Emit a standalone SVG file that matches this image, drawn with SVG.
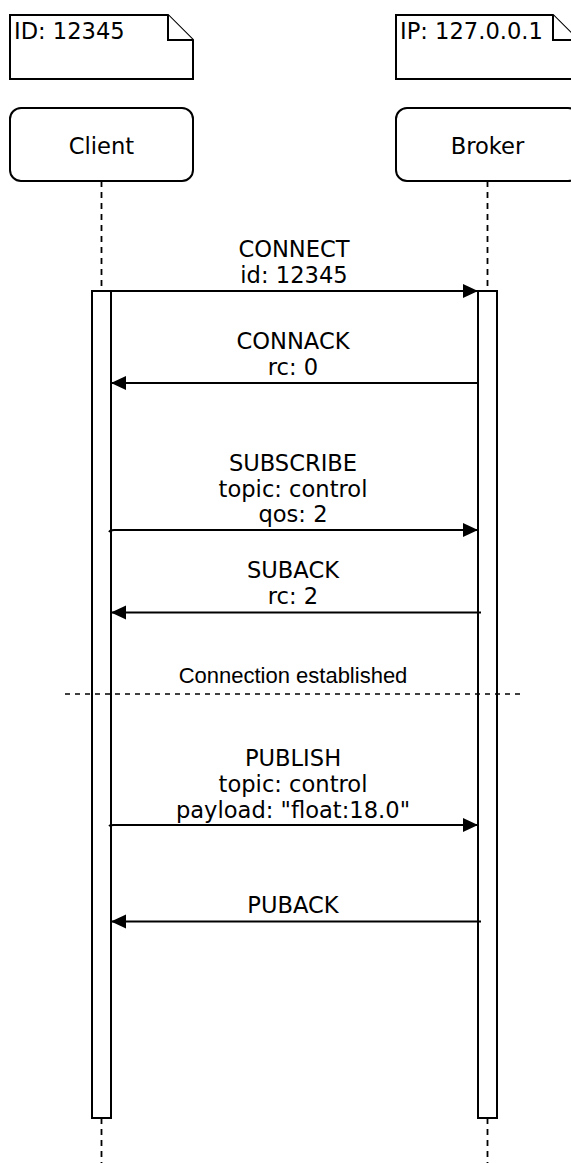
<svg xmlns="http://www.w3.org/2000/svg" width="571" height="1163" viewBox="0 0 571 1163">
<style>
.shape{fill:#fff;stroke:#000;stroke-width:2}
.life{fill:none;stroke:#000;stroke-width:1.8;stroke-dasharray:6 5}
.msg{fill:none;stroke:#000;stroke-width:1.8}
.t{font-family:"DejaVu Sans",Verdana,sans-serif;font-size:22.6px;fill:#000}
.c{text-anchor:middle}
.h{font-family:"Liberation Sans",Arial,Helvetica,sans-serif;font-size:22px;fill:#000;text-anchor:middle}
</style>
<defs>
<marker id="ah" markerUnits="userSpaceOnUse" markerWidth="16" markerHeight="16" viewBox="0 0 16 16" refX="15" refY="8" orient="auto">
<path d="M0,1 L15,8 L0,15 Z" fill="#000"/>
</marker>
</defs>
<g id="note-client">
<path class="shape" d="M10,15 H168 L193,40 V79 H10 Z"/>
<path class="shape" fill="none" d="M168,15 V40 H193"/>
<text class="t" x="14" y="39">ID: 12345</text>
</g>
<g id="note-broker">
<path class="shape" d="M396,15 H553 L578,40 V79 H396 Z"/>
<path class="shape" fill="none" d="M553,15 V40 H578"/>
<text class="t" x="400" y="39">IP: 127.0.0.1</text>
</g>
<g id="client">
<rect class="shape" x="10" y="108" width="183" height="73" rx="11"/>
<text class="t c" x="101.5" y="154">Client</text>
</g>
<g id="broker">
<rect class="shape" x="396" y="108" width="183" height="73" rx="11"/>
<text class="t c" x="487.5" y="154">Broker</text>
</g>
<g id="lifelines">
<path class="life" d="M101.5,181 V291 M101.5,1118 V1163 M487.5,181 V291 M487.5,1118 V1163"/>
</g>
<g id="activation-client">
<rect class="shape" x="92" y="291" width="19" height="827"/>
</g>
<g id="activation-broker">
<rect class="shape" x="478" y="291" width="19" height="827"/>
</g>
<g id="connectors">
<path class="msg" d="M111,291 H478" marker-end="url(#ah)"/>
<path class="msg" d="M478,383 H111" marker-end="url(#ah)"/>
<path class="msg" d="M109,532 Q110,530 114,530 H478" marker-end="url(#ah)"/>
<path class="msg" d="M481,612.5 H111" marker-end="url(#ah)"/>
<path class="msg" d="M109,826 Q110,825 114,825 H478" marker-end="url(#ah)"/>
<path class="msg" d="M481,921.5 H111" marker-end="url(#ah)"/>
<path fill="none" stroke="#000" stroke-width="1.5" stroke-dasharray="5 5" d="M65,694 H525"/>
</g>
<g id="labels">
<text class="t c" x="294" y="257">CONNECT</text>
<text class="t c" x="294" y="283">id: 12345</text>
<text class="t c" x="293" y="349">CONNACK</text>
<text class="t c" x="293" y="375">rc: 0</text>
<text class="t c" x="293" y="471">SUBSCRIBE</text>
<text class="t c" x="293" y="497">topic: control</text>
<text class="t c" x="293" y="522">qos: 2</text>
<text class="t c" x="293" y="578">SUBACK</text>
<text class="t c" x="293" y="604">rc: 2</text>
<text class="h" x="293" y="683">Connection established</text>
<text class="t c" x="293" y="766">PUBLISH</text>
<text class="t c" x="293" y="792">topic: control</text>
<text class="t c" x="293" y="818">payload: "float:18.0"</text>
<text class="t c" x="293" y="913">PUBACK</text>
</g>
</svg>
